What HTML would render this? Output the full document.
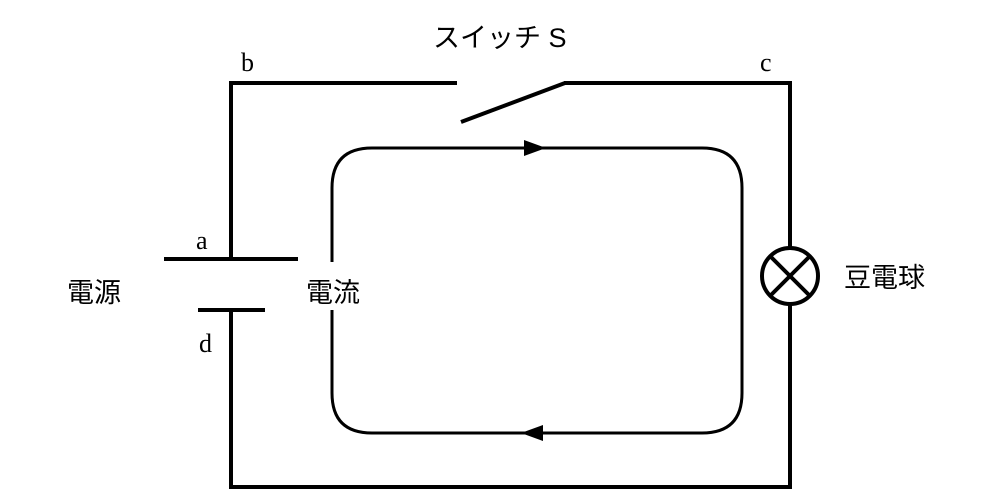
<!DOCTYPE html>
<html><head><meta charset="utf-8"><style>body{margin:0;background:#fff}</style></head><body>
<svg width="1000" height="500" viewBox="0 0 1000 500" xmlns="http://www.w3.org/2000/svg" style="display:block">
<g fill="none" stroke="#000" stroke-width="4">
<polyline points="231,259 231,83 457,83"/>
<line x1="461" y1="122" x2="565" y2="83"/>
<polyline points="564,83 790,83 790,248"/>
<circle cx="790" cy="276" r="28"/>
<line x1="770" y1="256" x2="810" y2="296"/>
<line x1="810" y1="256" x2="770" y2="296"/>
<polyline points="790,304 790,487 231,487 231,310"/>
<line x1="164" y1="259" x2="298" y2="259"/>
<line x1="198" y1="310" x2="265" y2="310"/>
</g>
<g fill="none" stroke="#000" stroke-width="3">
<path d="M332,262 L332,188 Q332,148 372,148 L702,148 Q742,148 742,188 L742,393 Q742,433 702,433 L372,433 Q332,433 332,393 L332,310"/>
</g>
<polygon points="524,140 546,148 524,156" fill="#000"/>
<polygon points="543,425 521,433 543,441" fill="#000"/>
<g font-family="Liberation Serif, Noto Serif CJK SC, serif" font-size="26" fill="#000">
<text x="241" y="71">b</text>
<text x="760" y="71">c</text>
<text x="196" y="249">a</text>
<text x="199" y="352">d</text>
</g>
<g font-family="Liberation Sans, Noto Sans CJK JP, sans-serif" font-size="27" fill="#000">
<text x="433" y="47">スイッチ S</text>
<text x="67" y="302">電源</text>
<text x="306" y="302">電流</text>
<text x="844" y="287">豆電球</text>
</g>
</svg>
</body></html>
